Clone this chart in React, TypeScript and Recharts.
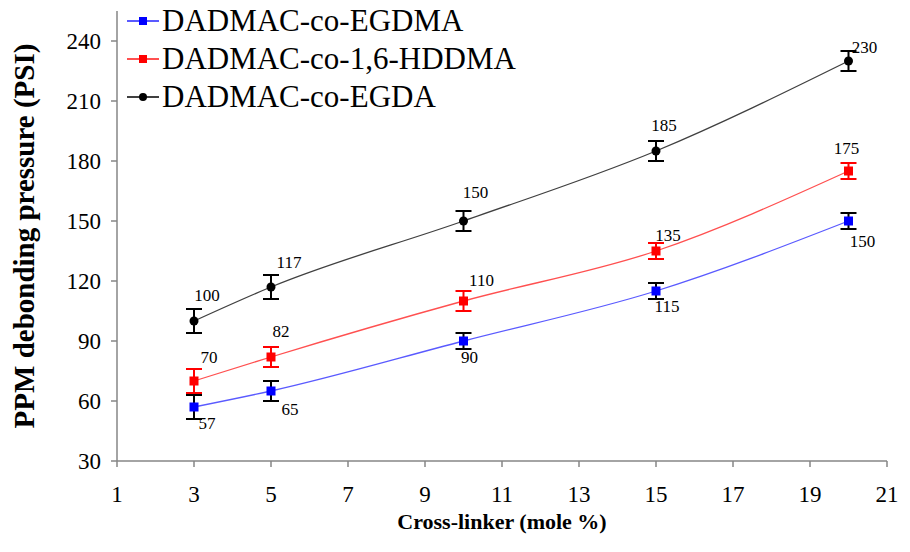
import React from "react";
import {
  LineChart, Line, XAxis, YAxis, ErrorBar, LabelList, Label,
} from "recharts";

const X_VALUES = [3, 5, 10, 15, 20];
const EGDMA = [57, 65, 90, 115, 150];
const HDDMA = [70, 82, 110, 135, 175];
const EGDA = [100, 117, 150, 185, 230];
const EGDMA_ERR = [6, 5, 4, 4, 4];
const HDDMA_ERR = [6, 5, 5, 4, 4];
const EGDA_ERR = [6, 6, 5, 5, 5];
const X_TICKS = [1, 3, 5, 7, 9, 11, 13, 15, 17, 19, 21];
const Y_TICKS = [30, 60, 90, 120, 150, 180, 210, 240];

const data = X_VALUES.map((x, i) => ({
  x,
  egdma: EGDMA[i],
  hddma: HDDMA[i],
  egda: EGDA[i],
  egdmaErr: EGDMA_ERR[i],
  hddmaErr: HDDMA_ERR[i],
  egdaErr: EGDA_ERR[i],
}));

// label nudges per point, in px
const EGDMA_OFF = [[13, 16], [19, 18], [6, 16], [11, 15], [14, 20]];
const HDDMA_OFF = [[15, -24], [10, -26], [18, -21], [12, -16], [-2, -23]];
const EGDA_OFF = [[13, -26], [18, -25], [12, -29], [8, -26], [16, -14]];

const FONT = "'Liberation Serif', 'Times New Roman', serif";
const AXIS = "#868686";

const SERIES = [
  { key: "egdma", name: "DADMAC-co-EGDMA", line: "#5a5aff", mark: "#0000ff", err: "#000", shape: "square", off: EGDMA_OFF },
  { key: "hddma", name: "DADMAC-co-1,6-HDDMA", line: "#ff5050", mark: "#ff0000", err: "#ff0000", shape: "square", off: HDDMA_OFF },
  { key: "egda", name: "DADMAC-co-EGDA", line: "#404040", mark: "#000000", err: "#000", shape: "circle", off: EGDA_OFF },
];

function makeDot(color: string, shape: string) {
  return (props: any) => {
    const { cx, cy, index } = props;
    if (cx == null || cy == null) return <g key={index} />;
    if (shape === "circle")
      return <circle key={index} cx={cx} cy={cy} r={4.5} fill={color} />;
    return <rect key={index} x={cx - 4.5} y={cy - 4.5} width={9} height={9} fill={color} />;
  };
}

function makeLabel(off: number[][]) {
  return (props: any) => {
    const { x, y, value, index } = props;
    const [dx, dy] = off[index] || [0, -15];
    return (
      <text key={index} x={x + dx} y={y + dy} textAnchor="middle" dominantBaseline="central"
        fontFamily={FONT} fontSize={17} fill="#000">
        {value}
      </text>
    );
  };
}

function LegendBox() {
  return (
    <div style={{ position: "absolute", left: 126, top: 2, fontFamily: FONT, fontSize: 31, lineHeight: "38px", color: "#000" }}>
      {SERIES.map((s) => (
        <div key={s.key} style={{ display: "flex", alignItems: "center", whiteSpace: "nowrap" }}>
          <svg width={34} height={20} style={{ marginRight: 2 }}>
            <line x1={1} y1={10} x2={33} y2={10} stroke={s.line} strokeWidth={2} />
            {s.shape === "circle"
              ? <circle cx={17} cy={10} r={4} fill={s.mark} />
              : <rect x={13} y={6} width={8} height={8} fill={s.mark} />}
          </svg>
          <span>{s.name}</span>
        </div>
      ))}
    </div>
  );
}

export default function App() {
  return (
    <div style={{ position: "absolute", left: 0, top: 0, width: 910, height: 552, background: "#fff" }}>
      <LineChart width={910} height={552} data={data}
        margin={{ top: 11, right: 23, left: 57, bottom: 41 }}>
        <XAxis dataKey="x" type="number" domain={[1, 21]} ticks={X_TICKS}
          axisLine={{ stroke: AXIS, strokeWidth: 1.5 }} tickLine={{ stroke: AXIS, strokeWidth: 1.5 }}
          tickSize={6} tickMargin={19} height={50}
          tick={{ fontFamily: FONT, fontSize: 23, fill: "#000" }}>
          <Label value="Cross-linker (mole %)" position="bottom" offset={2}
            style={{ fontFamily: FONT, fontSize: 22, fontWeight: "bold", fill: "#000" }} />
        </XAxis>
        <YAxis type="number" domain={[30, 255]} ticks={Y_TICKS} allowDataOverflow
          axisLine={{ stroke: AXIS, strokeWidth: 1.5 }} tickLine={{ stroke: AXIS, strokeWidth: 1.5 }}
          tickSize={6} tickMargin={10} width={60}
          tick={{ fontFamily: FONT, fontSize: 23, fill: "#000" }}>
          <Label value="PPM debonding pressure (PSI)" angle={-90} position="left" offset={33}
            style={{ fontFamily: FONT, fontSize: 29, fontWeight: "bold", fill: "#000", textAnchor: "middle" }} />
        </YAxis>
        {SERIES.map((s) => (
          <Line key={s.key} dataKey={s.key} name={s.name} type="monotone" stroke={s.line}
            strokeWidth={1.3} dot={makeDot(s.mark, s.shape)} activeDot={false}
            isAnimationActive={false}>
            <ErrorBar dataKey={`${s.key}Err`} direction="y" width={8} stroke={s.err} strokeWidth={2} />
            <LabelList dataKey={s.key} content={makeLabel(s.off)} />
          </Line>
        ))}
      </LineChart>
      <LegendBox />
    </div>
  );
}
